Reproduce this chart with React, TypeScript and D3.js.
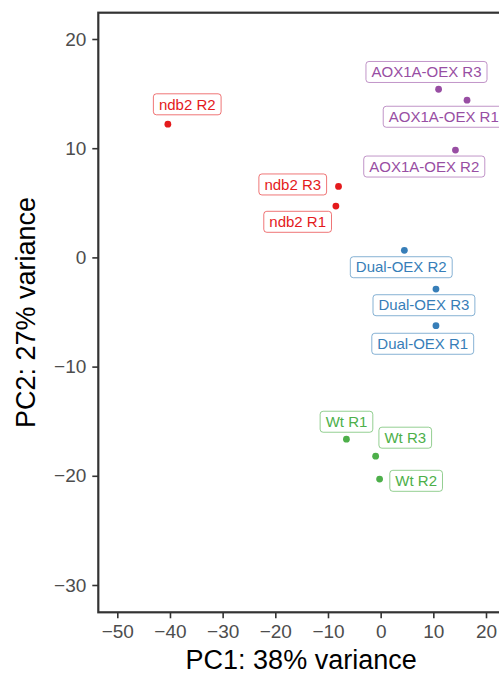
import React, { useEffect, useRef } from 'react';
import * as d3 from 'd3';

const samples = ['ndb2 R2', 'ndb2 R3', 'ndb2 R1', 'AOX1A-OEX R3', 'AOX1A-OEX R1', 'AOX1A-OEX R2',
  'Dual-OEX R2', 'Dual-OEX R3', 'Dual-OEX R1', 'Wt R1', 'Wt R3', 'Wt R2'];
const groups = ['ndb2', 'ndb2', 'ndb2', 'AOX1A-OEX', 'AOX1A-OEX', 'AOX1A-OEX',
  'Dual-OEX', 'Dual-OEX', 'Dual-OEX', 'Wt', 'Wt', 'Wt'];
const pc1 = [-40.4, -8.0, -8.5, 11.0, 16.4, 14.2, 4.5, 10.5, 10.5, -6.5, -0.95, -0.2];
const pc2 = [12.2, 6.5, 4.7, 15.4, 14.4, 9.83, 0.65, -2.9, -6.25, -16.65, -18.2, -20.3];
// label positions after repel (data units)
const labelX = [-36.72, -16.69, -15.76, 8.7, 11.98, 8.28, 3.91, 8.22, 7.99, -6.49, 4.67, 6.74];
const labelY = [14.02, 6.68, 3.26, 16.98, 12.88, 8.32, -0.9, -4.38, -7.91, -15.05, -16.51, -20.46];

const groupNames = ['AOX1A-OEX', 'Dual-OEX', 'ndb2', 'Wt'];
const groupColors = ['#984EA3', '#377EB8', '#E41A1C', '#4DAF4A'];
const xTicks = [-50, -40, -30, -20, -10, 0, 10, 20];
const yTicks = [-30, -20, -10, 0, 10, 20];

const W = 499;
const H = 675;
const FONT = '"Liberation Sans", Arial, Helvetica, sans-serif';

export default function App() {
  const ref = useRef<SVGSVGElement>(null);

  useEffect(() => {
    const svg = d3.select(ref.current);
    svg.selectAll('*').remove();

    const panel = { left: 98.3, top: 12.7, right: 504, bottom: 612.3 };

    const x = d3.scaleLinear().domain([-50, 20]).range([117.3, 486]);
    const y = d3.scaleLinear().domain([-30, 20]).range([585, 39]);
    const color = d3.scaleOrdinal<string, string>().domain(groupNames).range(groupColors);

    const data = samples.map((s, i) => ({
      name: s, group: groups[i], x: pc1[i], y: pc2[i], lx: labelX[i], ly: labelY[i],
    }));

    const fmt = (d: d3.NumberValue) => (+d < 0 ? '\u2212' + Math.abs(+d) : String(d));

    // x axis
    const xAxis = svg.append('g')
      .attr('transform', `translate(0,${panel.bottom})`)
      .call(d3.axisBottom(x).tickValues(xTicks).tickSize(6).tickPadding(6).tickFormat(fmt));
    xAxis.select('.domain').remove();
    xAxis.selectAll('.tick line').attr('stroke', '#333').attr('stroke-width', 1.6);
    xAxis.selectAll('.tick text')
      .attr('fill', '#4D4D4D').style('font-size', '19px').style('font-family', FONT);

    // y axis
    const yAxis = svg.append('g')
      .attr('transform', `translate(${panel.left},0)`)
      .call(d3.axisLeft(y).tickValues(yTicks).tickSize(6).tickPadding(6).tickFormat(fmt));
    yAxis.select('.domain').remove();
    yAxis.selectAll('.tick line').attr('stroke', '#333').attr('stroke-width', 1.6);
    yAxis.selectAll('.tick text')
      .attr('fill', '#4D4D4D').style('font-size', '19px').style('font-family', FONT);

    // panel border
    svg.append('rect')
      .attr('x', panel.left).attr('y', panel.top)
      .attr('width', panel.right - panel.left).attr('height', panel.bottom - panel.top)
      .attr('fill', 'none').attr('stroke', '#333').attr('stroke-width', 2.2);

    // points
    svg.append('g').selectAll('circle')
      .data(data).enter().append('circle')
      .attr('cx', (d) => x(d.x)).attr('cy', (d) => y(d.y))
      .attr('r', 3.4)
      .attr('fill', (d) => color(d.group));

    // labels
    const lab = svg.append('g').selectAll('g')
      .data(data).enter().append('g')
      .attr('transform', (d) => `translate(${x(d.lx)},${y(d.ly)})`);

    const rects = lab.append('rect');
    const texts = lab.append('text')
      .attr('text-anchor', 'middle')
      .attr('y', 5.2)
      .style('font-size', '15px')
      .style('font-family', FONT)
      .attr('fill', (d) => color(d.group))
      .text((d) => d.name);

    texts.each(function (_d, i) {
      const w = (this as SVGTextElement).getComputedTextLength() + 11;
      d3.select(rects.nodes()[i])
        .attr('x', -w / 2).attr('y', -10.5)
        .attr('width', w).attr('height', 21)
        .attr('rx', 3).attr('ry', 3);
    });
    rects.attr('fill', 'white')
      .attr('stroke', (d) => color(d.group))
      .attr('stroke-opacity', 0.6)
      .attr('stroke-width', 1);

    // axis titles
    svg.append('text')
      .attr('x', (panel.left + panel.right) / 2).attr('y', 669)
      .attr('text-anchor', 'middle')
      .style('font-size', '27px').style('font-family', FONT)
      .attr('fill', '#000')
      .text('PC1: 38% variance');

    svg.append('text')
      .attr('transform', `translate(34.5,${(panel.top + panel.bottom) / 2}) rotate(-90)`)
      .attr('text-anchor', 'middle')
      .style('font-size', '27px').style('font-family', FONT)
      .attr('fill', '#000')
      .text('PC2: 27% variance');
  }, []);

  return (
    <svg ref={ref} width={W} height={H}
      style={{ position: 'absolute', left: 0, top: 0, background: 'white' }} />
  );
}
